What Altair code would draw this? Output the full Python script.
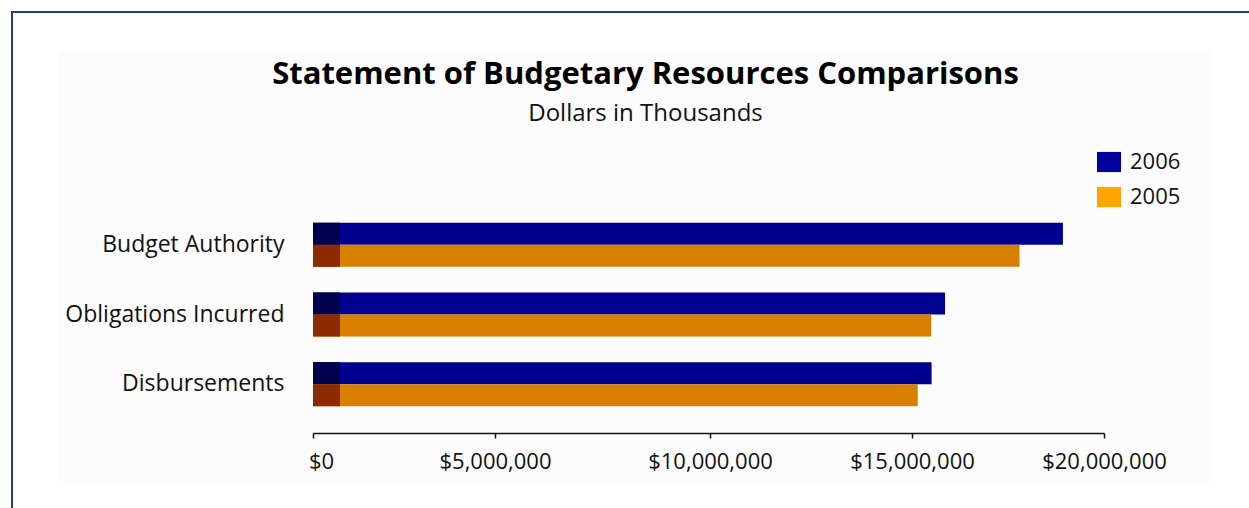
import altair as alt
import pandas as pd

categories = ["Budget Authority", "Obligations Incurred", "Disbursements"]
years = ["2006", "2005"]
values_2006 = [18930000, 15860000, 15510000]
values_2005 = [17800000, 15500000, 15150000]
x_ticks = [0, 5000000, 10000000, 15000000, 20000000]

rows = []
for c, v6, v5 in zip(categories, values_2006, values_2005):
    rows.append({"category": c, "year": "2006", "value": v6})
    rows.append({"category": c, "year": "2005", "value": v5})
df = pd.DataFrame(rows)

FONT = "Open Sans"
bar_colors = ["#000090", "#d87f00"]
side_colors = ["#00004c", "#8c2a00"]
legend_colors = ["#00009c", "#ffa500"]

W, H = 791, 237
PL, PT = 313, 196
# the original's value axis is slightly uneven (perspective-like); piecewise scale
x_range = [0, 182, 397, 599, 791]

y_enc = alt.Y("category:N", sort=categories,
              scale=alt.Scale(paddingInner=0.367, paddingOuter=0.384),
              axis=alt.Axis(title=None, domain=False, ticks=False, zindex=2,
                            labelFontSize=23, labelPadding=29, labelFont=FONT,
                            labelColor="#111111", labelLimit=400))
yoff_enc = alt.YOffset("year:N", sort=years,
                       scale=alt.Scale(paddingInner=0, paddingOuter=0))
x_enc = alt.X("value:Q",
              scale=alt.Scale(domain=x_ticks, range=x_range, nice=False),
              axis=alt.Axis(title=None, values=x_ticks, format="$,.0f", grid=False, zindex=2,
                            tickSize=5, tickColor="#111111", domainColor="#111111",
                            domainWidth=1.5, tickWidth=1.5, labelFlush=False,
                            labelFontSize=22, labelFont=FONT, labelColor="#111111",
                            labelPadding=13,
                            labelOffset={"expr": "datum.value == 0 ? 8 : 0"}))

frame_data = alt.Data(values=[{"k": 1}])

panel = alt.Chart(frame_data).mark_rect(fill="#fcfcfc").encode(
    x=alt.value(58 - PL), x2=alt.value(1213 - PL),
    y=alt.value(50 - PT), y2=alt.value(483 - PT))

frame = alt.Chart(frame_data).mark_rect(fill=None, stroke="#243f86", strokeWidth=2).encode(
    x=alt.value(12 - PL), x2=alt.value(1400 - PL),
    y=alt.value(12 - PT), y2=alt.value(700 - PT))

bars = alt.Chart(df).mark_bar(cornerRadius=0).encode(
    x=x_enc, y=y_enc, yOffset=yoff_enc,
    color=alt.Color("year:N", scale=alt.Scale(domain=years, range=bar_colors), legend=None))

sides = alt.Chart(df).mark_bar().encode(
    x=alt.value(0), x2=alt.value(27), y=y_enc, yOffset=yoff_enc,
    color=alt.Color("year:N", scale=alt.Scale(domain=years, range=side_colors), legend=None))

legend_layer = alt.Chart(df).transform_filter("datum.value < 0").mark_square().encode(
    x=alt.X("value:Q"), y=alt.Y("category:N", sort=categories),
    color=alt.Color("year:N", scale=alt.Scale(domain=years, range=legend_colors),
                    legend=alt.Legend(title=None, orient="none", legendX=784, legendY=-46,
                                      symbolType="M-1,-0.84H1V0.84H-1Z", symbolSize=576,
                                      symbolStrokeWidth=0, symbolOpacity=1,
                                      labelFontSize=22, labelFont=FONT, labelColor="#111111",
                                      labelOffset=9, rowPadding=12, padding=0)))

chart = alt.layer(panel, frame, bars, sides, legend_layer).resolve_scale(
    color="independent"
).properties(
    width=W, height=H,
    padding={"left": PL, "top": PT, "right": 1249 - PL - W, "bottom": 508 - PT - H},
    autosize=alt.AutoSizeParams(type="none"),
    background="white",
    title=alt.TitleParams(text="Statement of Budgetary Resources Comparisons",
                          subtitle="Dollars in Thousands",
                          font=FONT, fontSize=31, fontWeight="bold", color="#000000",
                          subtitleFont=FONT, subtitleFontSize=24, subtitleColor="#111111",
                          anchor="middle", frame="group", dx=-63, offset=-116,
                          subtitlePadding=11)
).configure_view(stroke=None)

chart.save("out.html", embed_options={"renderer": "svg", "actions": False})
